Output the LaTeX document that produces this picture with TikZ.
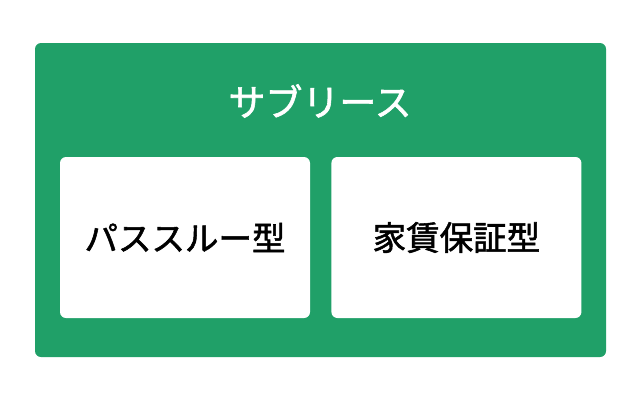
\documentclass[tikz,border=0pt]{standalone}
\usepackage{fontspec}
\setmainfont[FakeBold=1.6]{Noto Sans CJK JP}
\usetikzlibrary{positioning}
\definecolor{sublgreen}{HTML}{20A068}

\begin{document}
\begin{tikzpicture}[x=1pt, y=-1pt,
    card/.style = {fill=white, rounded corners=6pt, minimum width=250pt, minimum height=161pt, inner sep=0pt, font=\fontsize{33.5}{38}\selectfont},
    title/.style = {text=white, font=\fontsize{37}{40}\selectfont}]
    \useasboundingbox (0,0) rectangle (640,400);
    \fill[sublgreen, rounded corners=6pt] (35,43) rectangle (606,357);
    \node[title] (sub) at (320,101) {サブリース};

    \node[card] (pass) at (185,237.5) {パススルー型};
    \node[card] (guar) [right=21pt of pass] {家賃保証型};
\end{tikzpicture}
\end{document}
